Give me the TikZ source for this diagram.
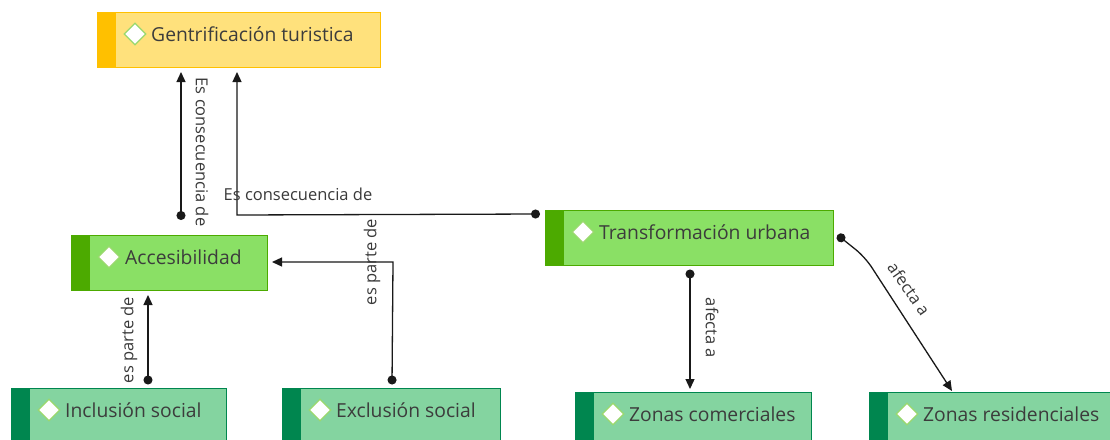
\documentclass[tikz,border=0pt]{standalone}
\usepackage{fontspec}
\setmainfont{Open Sans}
\usetikzlibrary{arrows.meta,shapes.geometric}
\definecolor{genfill}{HTML}{FFE17C}
\definecolor{genedge}{HTML}{FFC000}
\definecolor{midfill}{HTML}{8AE065}
\definecolor{midedge}{HTML}{4CAA00}
\definecolor{lowfill}{HTML}{84D4A0}
\definecolor{lowedge}{HTML}{00864F}
\definecolor{txtc}{HTML}{3C3C3C}
\definecolor{lblc}{HTML}{3A3A3A}
\definecolor{diaedge}{HTML}{9AD86E}
\begin{document}
\begin{tikzpicture}[x=1pt,y=-1pt,
  box/.style={draw=#1edge, fill=#1fill, line width=1pt, anchor=north west,
    minimum height=55pt, inner sep=0pt,
    path picture={\fill[#1edge] (path picture bounding box.north west) rectangle ([xshift=18pt]path picture bounding box.south west);}},
  dia/.style={diamond, draw=diaedge, fill=white, line width=1.3pt, minimum width=22pt, minimum height=22pt, inner sep=0pt},
  txt/.style={anchor=west, inner sep=0pt, text=txtc, font=\fontsize{19.3}{22}\selectfont},
  lbl/.style={inner sep=0pt, text=lblc, font=\fontsize{16.5}{19}\selectfont},
  conn/.style={line width=1.3pt, draw=black!90, {Circle[length=9pt,width=9pt]}-{Triangle[length=10pt,width=9pt]}}
]
\useasboundingbox (0,0) rectangle (1110,439);
\fill[white] (0,0) rectangle (1110,439);
\begin{scope}
\clip (0,0) rectangle (1110,439);
% boxes
\node[box=gen, minimum width=283pt] (gen) at (97,12) {};
\node[box=mid, minimum width=196pt] (acc) at (71,235) {};
\node[box=mid, minimum width=288pt] (tra) at (545,210) {};
\node[box=low, minimum width=215pt] (inc) at (11,388) {};
\node[box=low, minimum width=218pt] (exc) at (282,388) {};
\node[box=low, minimum width=236pt] (zco) at (575,392) {};
\node[box=low, minimum width=260pt] (zre) at (869,392) {};
% icons and texts
\foreach \n/\t in {gen/Gentrificación turistica, acc/Accesibilidad, tra/Transformación urbana, inc/Inclusión social, exc/Exclusión social, zco/Zonas comerciales, zre/Zonas residenciales}{
  \node[dia] (\n-icon) at ([shift={(38,22)}]\n.north west) {};
  \node[txt] (\n-text) at ([shift={(54,22)}]\n.north west) {\t};
}
\end{scope}
% connectors
\draw[conn] ([shift={(110,-15)}]acc.north west) -- ([shift={(84,4)}]gen.south west);
\draw[conn] ([shift={(-5,4)}]tra.north west) -- ([shift={(140,147)}]gen.south west) -- ([shift={(140,4)}]gen.south west);
\draw[conn] ([shift={(137,-3.5)}]inc.north west) -- ([shift={(77,4)}]acc.south west);
\draw[conn] ([shift={(110,-3.5)}]exc.north west) -- ([shift={(125,27)}]acc.north east) -- ([shift={(4,27)}]acc.north east);
\draw[conn] ([shift={(145,3.5)}]tra.south west) -- ([shift={(115,-3)}]zco.north west);
\draw[conn, rounded corners=12pt] ([shift={(3.5,-3)}]tra.east) -- ([shift={(31,19)}]tra.east) -- ([shift={(83,-1)}]zre.north west);
% labels
\node[lbl, rotate=-90] (l1) at (202,152) {Es consecuencia de};
\node[lbl] (l2) at (298,194) {Es consecuencia de};
\node[lbl, rotate=90] (l3) at (129,340) {es parte de};
\node[lbl, rotate=90] (l4) at (372,262) {es parte de};
\node[lbl, rotate=-90] (l5) at (712,328) {afecta a};
\node[lbl, rotate=-55] (l6) at (909,289) {afecta a};
\end{tikzpicture}
\end{document}
